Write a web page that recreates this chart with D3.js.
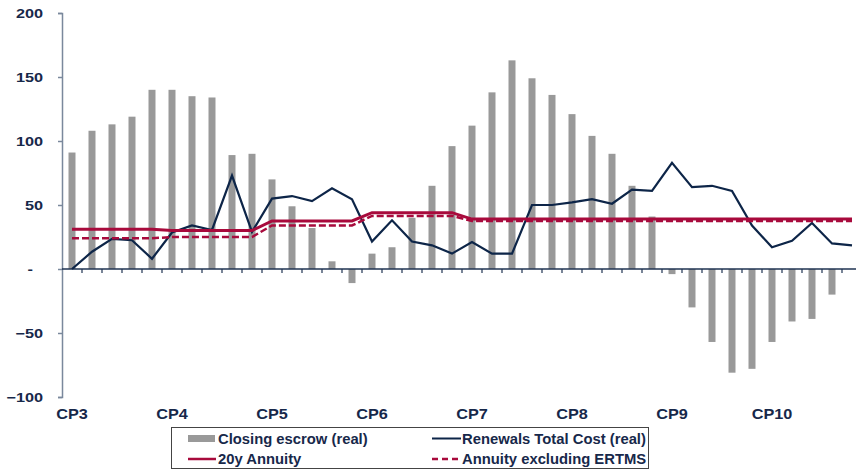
<!DOCTYPE html>
<html>
<head>
<meta charset="utf-8">
<script src="https://cdn.jsdelivr.net/npm/d3@7/dist/d3.min.js"></script>
<style>
  html, body { margin: 0; padding: 0; background: #ffffff; }
  svg { display: block; font-family: "Liberation Sans", Arial, sans-serif; }
</style>
</head>
<body>
<svg id="chart" width="856" height="471"></svg>
<script>
// Financial years, five per control period (CP3 .. CP10)
const years = [
  "2004/05","2005/06","2006/07","2007/08","2008/09",
  "2009/10","2010/11","2011/12","2012/13","2013/14",
  "2014/15","2015/16","2016/17","2017/18","2018/19",
  "2019/20","2020/21","2021/22","2022/23","2023/24",
  "2024/25","2025/26","2026/27","2027/28","2028/29",
  "2029/30","2030/31","2031/32","2032/33","2033/34",
  "2034/35","2035/36","2036/37","2037/38","2038/39",
  "2039/40","2040/41","2041/42","2042/43","2043/44"
];
const controlPeriods = ["CP3","CP4","CP5","CP6","CP7","CP8","CP9","CP10"];

// Closing escrow balance (real)
const closingEscrow = [
  91, 108, 113, 119, 140,
  140, 135, 134, 89, 90,
  70, 49, 32, 6, -11,
  12, 17, 40, 65, 96,
  112, 138, 163, 149, 136,
  121, 104, 90, 65, 41,
  -4, -30, -57, -81, -78,
  -57, -41, -39, -20, 0
];

// Renewals total cost (real)
const renewalsCost = [
  0, 13.5, 23.5, 22.5, 8,
  28.5, 34, 30.5, 73, 29,
  55, 57, 53, 63, 54.5,
  21.5, 38, 21.5, 18.5, 12,
  21, 12, 12, 50, 50,
  52, 54.5, 51, 62, 61,
  83, 64, 65, 61, 34,
  17, 22, 36, 20, 18.5
];

// 20-year annuity
const annuity20y = [
  31, 31, 31, 31, 31,
  30, 30, 30, 30, 30,
  37.5, 37.5, 37.5, 37.5, 37.5,
  44, 44, 44, 44, 44,
  39, 39, 39, 39, 39,
  39, 39, 39, 39, 39,
  39, 39, 39, 39, 39,
  39, 39, 39, 39, 39
];

// Annuity excluding ERTMS
const annuityExErtms = [
  24, 24, 24, 24, 24,
  25, 25, 25, 25, 25,
  34, 34, 34, 34, 34,
  41.5, 41.5, 41.5, 41.5, 41.5,
  37.5, 37.5, 37.5, 37.5, 37.5,
  37.5, 37.5, 37.5, 37.5, 37.5,
  37.5, 37.5, 37.5, 37.5, 37.5,
  37.5, 37.5, 37.5, 37.5, 37.5
];

const yTicks = [-100, -50, 0, 50, 100, 150, 200];

const colors = {
  bar: "#999999",
  navy: "#0d2548",
  red: "#a80a3c",
  text: "#17284a",
  yAxis: "#7a889c",
  xAxis: "#1f3352"
};

const svg = d3.select("#chart");
const plot = { left: 62, right: 862, top: 13, bottom: 397 };

const x = d3.scaleBand()
  .domain(years)
  .range([plot.left, plot.right])
  .paddingInner(0.65)
  .paddingOuter(0.325);

const y = d3.scaleLinear()
  .domain([-100, 200])
  .range([plot.bottom, plot.top]);

const cx = d => x(d) + x.bandwidth() / 2;

// Bars
svg.append("g")
  .selectAll("rect")
  .data(years.map((yr, i) => ({ yr, v: closingEscrow[i] })))
  .join("rect")
  .attr("x", d => x(d.yr))
  .attr("width", x.bandwidth())
  .attr("y", d => y(Math.max(0, d.v)))
  .attr("height", d => Math.abs(y(d.v) - y(0)))
  .attr("fill", colors.bar);

// Y axis
const yAxis = svg.append("g")
  .attr("transform", `translate(${plot.left},0)`)
  .call(d3.axisLeft(y).tickValues(yTicks).tickSize(4).tickPadding(15)
    .tickFormat(d => d === 0 ? "-" : d3.format("d")(d)));
yAxis.select(".domain").attr("stroke", colors.yAxis).attr("stroke-width", 1.5);
yAxis.selectAll(".tick line").attr("stroke", colors.yAxis).attr("stroke-width", 1.5);
const ySx = 1.25;
yAxis.selectAll(".tick text")
  .attr("fill", colors.text)
  .attr("font-size", 13)
  .attr("font-weight", "bold")
  .attr("transform", `scale(${ySx},1)`)
  .attr("x", d => (d === 0 ? -29 : -19) / ySx);

// X axis at zero with ticks between the years
const xAxisG = svg.append("g");
xAxisG.append("line")
  .attr("x1", plot.left).attr("x2", plot.right)
  .attr("y1", y(0)).attr("y2", y(0))
  .attr("stroke", colors.xAxis).attr("stroke-width", 1.5);
xAxisG.selectAll("line.tick")
  .data(years)
  .join("line")
  .attr("class", "tick")
  .attr("x1", d => cx(d) + x.step() / 2)
  .attr("x2", d => cx(d) + x.step() / 2)
  .attr("y1", y(0)).attr("y2", y(0) + 4)
  .attr("stroke", colors.xAxis).attr("stroke-width", 1.2);

// Control period labels under the plot
const cpStart = controlPeriods.map((cp, i) => ({ cp, yr: years[i * 5] }));
const cpSx = 1.16;
svg.append("g")
  .selectAll("text")
  .data(cpStart)
  .join("text")
  .attr("transform", d => `translate(${cx(d.yr)},${plot.bottom + 22}) scale(${cpSx},1)`)
  .attr("text-anchor", "middle")
  .attr("font-size", 14)
  .attr("font-weight", "bold")
  .attr("fill", colors.text)
  .text(d => d.cp);

// Lines
const lineGen = vals => d3.line()
  .x((d, i) => cx(years[i]))
  .y(d => y(d))(vals);

svg.append("path")
  .attr("d", lineGen(renewalsCost))
  .attr("fill", "none")
  .attr("stroke", colors.navy)
  .attr("stroke-width", 2.2)
  .attr("stroke-linejoin", "miter");

svg.append("path")
  .attr("d", lineGen(annuity20y))
  .attr("fill", "none")
  .attr("stroke", colors.red)
  .attr("stroke-width", 3);

svg.append("path")
  .attr("d", lineGen(annuityExErtms))
  .attr("fill", "none")
  .attr("stroke", colors.red)
  .attr("stroke-width", 2.5)
  .attr("stroke-dasharray", "7,3");

// Legend
const legend = svg.append("g");
legend.append("rect")
  .attr("x", 171.5).attr("y", 427.5)
  .attr("width", 477).attr("height", 41)
  .attr("fill", "#ffffff")
  .attr("stroke", "#444444").attr("stroke-width", 1);

const legendItems = [
  { label: "Closing escrow (real)", type: "bar", x: 188, y: 438.5 },
  { label: "Renewals Total Cost (real)", type: "navy", x: 432, y: 438.5 },
  { label: "20y Annuity", type: "red", x: 188, y: 459 },
  { label: "Annuity excluding ERTMS", type: "dash", x: 432, y: 459 }
];
legendItems.forEach(it => {
  const g = legend.append("g");
  if (it.type === "bar") {
    g.append("rect").attr("x", it.x).attr("y", it.y - 3.5)
      .attr("width", 27).attr("height", 7).attr("fill", colors.bar);
  } else if (it.type === "navy") {
    g.append("line").attr("x1", it.x).attr("x2", it.x + 29)
      .attr("y1", it.y).attr("y2", it.y)
      .attr("stroke", colors.navy).attr("stroke-width", 2);
  } else if (it.type === "red") {
    g.append("line").attr("x1", it.x).attr("x2", it.x + 28)
      .attr("y1", it.y).attr("y2", it.y)
      .attr("stroke", colors.red).attr("stroke-width", 2.5);
  } else {
    g.append("line").attr("x1", it.x).attr("x2", it.x + 26)
      .attr("y1", it.y).attr("y2", it.y)
      .attr("stroke", colors.red).attr("stroke-width", 2.5)
      .attr("stroke-dasharray", "6,4");
  }
  g.append("text")
    .attr("x", it.x + 30)
    .attr("y", it.y + 5)
    .attr("font-size", 14.8)
    .attr("font-weight", "bold")
    .attr("fill", colors.text)
    .text(it.label);
});
</script>
</body>
</html>
